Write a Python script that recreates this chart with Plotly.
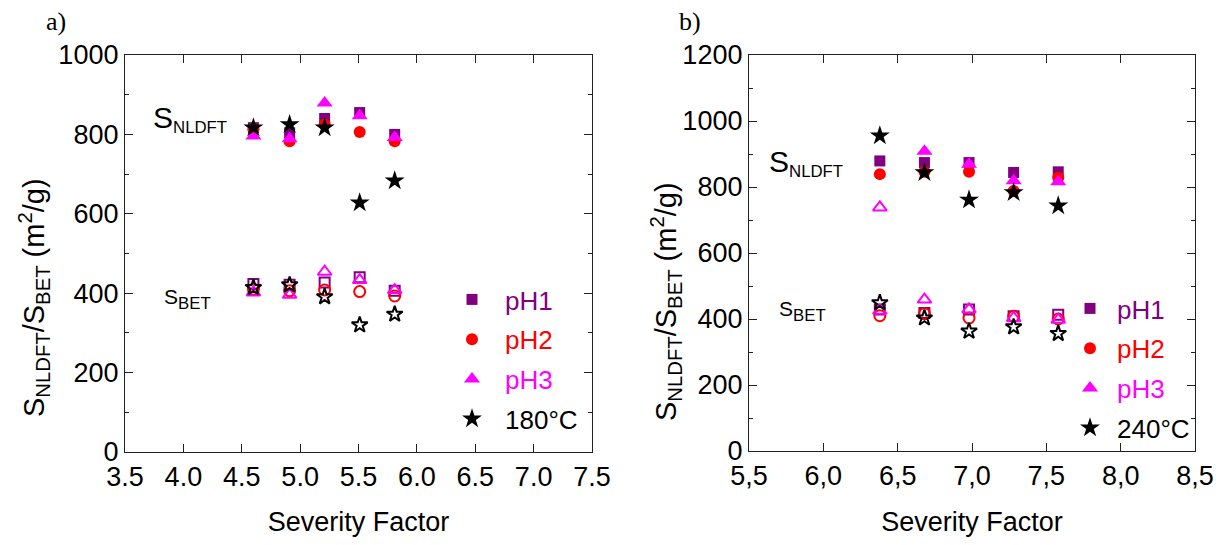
import plotly.graph_objects as go

# reference canvas and page offset (default 8px body margin of the html page)
W_REF, H_REF, OFF = 1223, 545, 8
W, H = W_REF - 2 * OFF, H_REF - 2 * OFF

# ---------------- data ----------------
# panel a) 180 °C
sf_a = [4.60, 4.91, 5.21, 5.51, 5.81]
a_nldft_ph1 = [817, 804, 840, 855, 800]
a_nldft_ph2 = [813, 783, 825, 806, 783]
a_nldft_ph3 = [796, 789, 879, 847, 792]
a_nldft_t = [817, 825, 817, 628, 683]
a_bet_ph1 = [423, 421, 427, 440, 406]
a_bet_ph2 = [410, 406, 408, 404, 393]
a_bet_ph3 = [402, 396, 454, 433, 408]
a_bet_t = [414, 421, 391, 320, 347]

# panel b) 240 °C
sf_b = [6.38, 6.68, 6.98, 7.28, 7.58]
b_nldft_ph1 = [879, 874, 874, 844, 846]
b_nldft_ph2 = [839, 846, 846, 788, 829]
b_nldft_ph3 = [738, 908, 869, 819, 816]   # first point drawn as open triangle
b_nldft_t = [955, 844, 761, 783, 743]
b_bet_ph1 = [429, 418, 429, 408, 413]
b_bet_ph2 = [410, 416, 403, 408, 400]
b_bet_ph3 = [425, 459, 429, 403, 398]
b_bet_t = [449, 403, 363, 376, 356]

temp_a = "180°C"
temp_b = "240°C"

xticks_a = [3.5, 4.0, 4.5, 5.0, 5.5, 6.0, 6.5, 7.0, 7.5]
xticks_b = [5.5, 6.0, 6.5, 7.0, 7.5, 8.0, 8.5]
xticktext_b = ["5,5", "6,0", "6,5", "7,0", "7,5", "8,0", "8,5"]

# ---------------- styling ----------------
C_PH1 = "#800080"
C_PH2 = "#FF0000"
C_PH3 = "#FF00FF"
C_T = "#000000"
FONT = "Liberation Sans"
AX = "#222222"


def dom_x(a, b):
    return [(a - OFF) / W, (b - OFF) / W]


def dom_y(top, bottom):
    return [1 - (bottom - OFF) / H, 1 - (top - OFF) / H]


def pxx(p):
    return (p - OFF) / W


def pxy(p):
    return 1 - (p - OFF) / H


fig = go.Figure()


def add(x, y, xa, ya, symbol, color, size, name, legend, showlegend, group):
    fig.add_trace(go.Scatter(
        x=x, y=y, xaxis=xa, yaxis=ya, mode="markers",
        name=name, legend=legend, showlegend=showlegend, legendgroup=group,
        marker=dict(symbol=symbol, color=color, size=size,
                    line=dict(color=color, width=2 if "open" in symbol else 0)),
        hoverinfo="x+y",
    ))


def lname(txt, color):
    return f'<span style="color:{color}">{txt}</span>'


# panel a
add(sf_a, a_nldft_ph1, "x", "y", "square", C_PH1, 11, lname("pH1", C_PH1), "legend", True, "a1")
add(sf_a, a_bet_ph1, "x", "y", "square-open", C_PH1, 10, "pH1", "legend", False, "a1")
add(sf_a, a_nldft_ph2, "x", "y", "circle", C_PH2, 12, lname("pH2", C_PH2), "legend", True, "a2")
add(sf_a, a_bet_ph2, "x", "y", "circle-open", C_PH2, 11, "pH2", "legend", False, "a2")
add(sf_a, a_nldft_ph3, "x", "y", "triangle-up", C_PH3, 14, lname("pH3", C_PH3), "legend", True, "a3")
add(sf_a, a_bet_ph3, "x", "y", "triangle-up-open", C_PH3, 12, "pH3", "legend", False, "a3")
add(sf_a, a_nldft_t, "x", "y", "star", C_T, 15, lname(temp_a, C_T), "legend", True, "a4")
add(sf_a, a_bet_t, "x", "y", "star-open", C_T, 12, temp_a, "legend", False, "a4")

# panel b
add(sf_b, b_nldft_ph1, "x2", "y2", "square", C_PH1, 11, lname("pH1", C_PH1), "legend2", True, "b1")
add(sf_b, b_bet_ph1, "x2", "y2", "square-open", C_PH1, 10, "pH1", "legend2", False, "b1")
add(sf_b, b_nldft_ph2, "x2", "y2", "circle", C_PH2, 12, lname("pH2", C_PH2), "legend2", True, "b2")
add(sf_b, b_bet_ph2, "x2", "y2", "circle-open", C_PH2, 11, "pH2", "legend2", False, "b2")
add(sf_b[1:], b_nldft_ph3[1:], "x2", "y2", "triangle-up", C_PH3, 14, lname("pH3", C_PH3), "legend2", True, "b3")
add(sf_b[:1], b_nldft_ph3[:1], "x2", "y2", "triangle-up-open", C_PH3, 12, "pH3", "legend2", False, "b3")
add(sf_b, b_bet_ph3, "x2", "y2", "triangle-up-open", C_PH3, 12, "pH3", "legend2", False, "b3")
add(sf_b, b_nldft_t, "x2", "y2", "star", C_T, 15, lname(temp_b, C_T), "legend2", True, "b4")
add(sf_b, b_bet_t, "x2", "y2", "star-open", C_T, 12, temp_b, "legend2", False, "b4")

axis_common = dict(
    showline=True, linecolor=AX, linewidth=1.3, mirror="allticks",
    ticks="inside", ticklen=8, tickwidth=1.2, tickcolor=AX,
    showgrid=False, zeroline=False, automargin=False,
    tickfont=dict(family=FONT, size=27, color="black"),
    title_font=dict(family=FONT, size=27, color="black"),
)
ytitle = "S<sub>NLDFT</sub>/S<sub>BET</sub> (m<sup>2</sup>/g)"

fig.update_layout(
    width=W, height=H,
    margin=dict(l=0, r=0, t=0, b=0),
    paper_bgcolor="white", plot_bgcolor="white",
    font=dict(family=FONT, color="black"),
    xaxis=dict(axis_common, domain=dom_x(125, 592), range=[3.5, 7.5],
               tickvals=xticks_a, tickformat=".1f", anchor="y",
               title=dict(text="Severity Factor", standoff=26)),
    yaxis=dict(axis_common, domain=dom_y(55, 452), range=[0, 1000], dtick=200,
               anchor="x",
               minor=dict(ticks="inside", dtick=100, ticklen=4, tickcolor=AX)),
    xaxis2=dict(axis_common, domain=dom_x(749, 1195), range=[5.5, 8.5],
                tickvals=xticks_b, ticktext=xticktext_b, anchor="y2",
                title=dict(text="Severity Factor", standoff=26)),
    yaxis2=dict(axis_common, domain=dom_y(55, 451), range=[0, 1200], dtick=200,
                anchor="x2",
                minor=dict(ticks="inside", dtick=100, ticklen=4, tickcolor=AX)),
    legend=dict(x=pxx(439), y=pxy(276), xanchor="left", yanchor="top",
                bgcolor="rgba(0,0,0,0)", font=dict(family=FONT, size=26),
                tracegroupgap=3, itemsizing="trace", itemwidth=56),
    legend2=dict(x=pxx(1063), y=pxy(285), xanchor="left", yanchor="top",
                 bgcolor="rgba(0,0,0,0)", font=dict(family=FONT, size=26),
                 tracegroupgap=3, itemsizing="trace", itemwidth=44),
    showlegend=True,
)

# y-axis titles (placed as rotated text, as in the reference they sit below centre)
fig.add_annotation(text=ytitle, x=pxx(34), y=pxy(298), xref="paper", yref="paper",
                   textangle=-90, xanchor="center", yanchor="middle", showarrow=False,
                   font=dict(family=FONT, size=29, color="black"))
fig.add_annotation(text=ytitle, x=pxx(666), y=pxy(302), xref="paper", yref="paper",
                   textangle=-90, xanchor="center", yanchor="middle", showarrow=False,
                   font=dict(family=FONT, size=29, color="black"))

S_BIG = '<span style="font-size:30px">S</span><sub>NLDFT</sub>'
S_SMALL = '<span style="font-size:21px">S</span><sub>BET</sub>'
annots = [
    dict(text=S_BIG, x=3.72, y=838, xref="x", yref="y"),
    dict(text=S_SMALL, x=3.82, y=385, xref="x", yref="y"),
    dict(text=S_BIG, x=5.62, y=874, xref="x2", yref="y2"),
    dict(text=S_SMALL, x=5.69, y=424, xref="x2", yref="y2"),
]
for a in annots:
    fig.add_annotation(text=a["text"], x=a["x"], y=a["y"], xref=a["xref"], yref=a["yref"],
                       xanchor="left", yanchor="middle", showarrow=False,
                       font=dict(family=FONT, size=24, color="black"))

fig.add_annotation(text="a)", x=pxx(56), y=pxy(21), xref="paper", yref="paper",
                   xanchor="center", yanchor="middle", showarrow=False, borderpad=0,
                   font=dict(family="Liberation Serif", size=26, color="black"))
fig.add_annotation(text="b)", x=pxx(690), y=pxy(21), xref="paper", yref="paper",
                   xanchor="center", yanchor="middle", showarrow=False, borderpad=0,
                   font=dict(family="Liberation Serif", size=26, color="black"))

fig.write_html("out.html")
